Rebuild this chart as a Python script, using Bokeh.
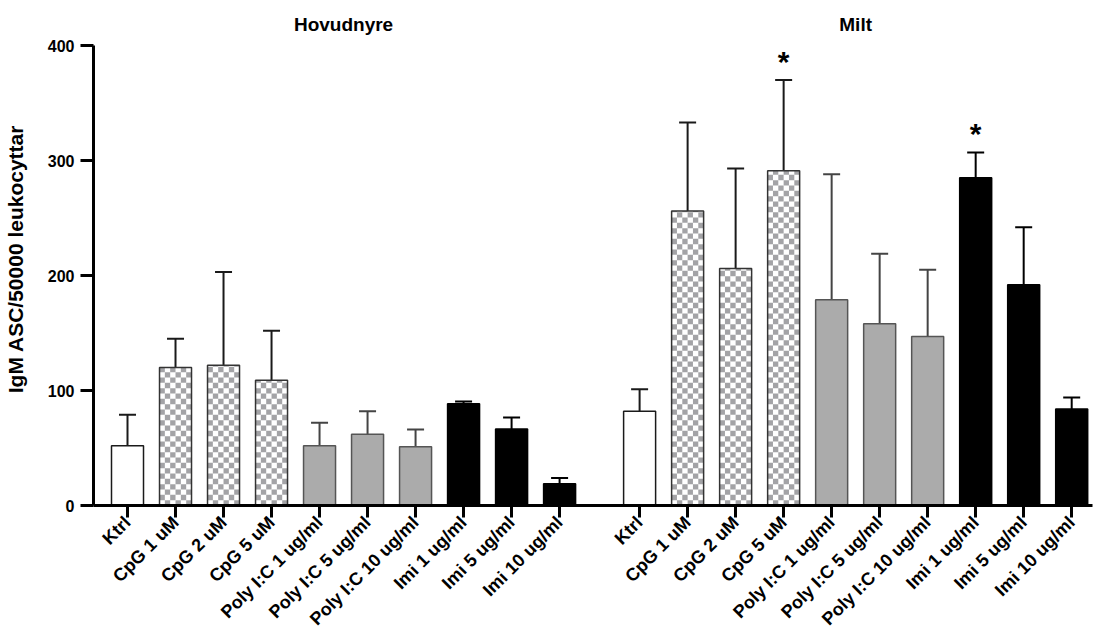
import math
from bokeh.plotting import figure
from bokeh.models import (ColumnDataSource, FixedTicker, Whisker, TeeHead, Range1d)
from bokeh.core.properties import value
from bokeh.embed import file_html
from bokeh.resources import INLINE

# ---------------- data ----------------
groups = ["Hovudnyre", "Milt"]
categories = ["Ktrl", "CpG 1 uM", "CpG 2 uM", "CpG 5 uM",
              "Poly I:C 1 ug/ml", "Poly I:C 5 ug/ml", "Poly I:C 10 ug/ml",
              "Imi 1 ug/ml", "Imi 5 ug/ml", "Imi 10 ug/ml"]
treatment = ["ktrl", "cpg", "cpg", "cpg", "poly", "poly", "poly", "imi", "imi", "imi"]

hovudnyre_mean = [52, 120, 122, 109, 52, 62, 51, 88.5, 66.5, 19]
hovudnyre_err = [27, 25, 81, 43, 20, 20, 15, 2, 10, 5]
hovudnyre_sig = ["", "", "", "", "", "", "", "", "", ""]

milt_mean = [82, 256, 206, 291, 179, 158, 147, 285, 192, 84]
milt_err = [19, 77, 87, 79, 109, 61, 58, 22, 50, 10]
milt_sig = ["", "", "", "*", "", "", "", "*", "", ""]

y_ticks = [0, 100, 200, 300, 400]

# ---------------- layout helpers ----------------
STEP = 3          # one category = 3 x-units
GROUP_GAP = 2     # extra units between the two groups
BAR_W = 2.0
n = len(categories)

xs, tops, uppers, kinds, sigs, labels = [], [], [], [], [], []
group_centers = []
for gi, (means, es, sg) in enumerate([(hovudnyre_mean, hovudnyre_err, hovudnyre_sig),
                                      (milt_mean, milt_err, milt_sig)]):
    base = gi * (n * STEP + GROUP_GAP)
    gx = [base + i * STEP for i in range(n)]
    group_centers.append(sum(gx) / n)
    xs += gx
    tops += means
    uppers += [m + e for m, e in zip(means, es)]
    kinds += treatment
    sigs += sg
    labels += categories

styles = {
    "ktrl": dict(fill_color="white", line_color="#1a1a1a", wcolor="#1a1a1a"),
    "cpg": dict(fill_color="white", line_color="#333333", wcolor="#1a1a1a"),
    "poly": dict(fill_color="#ababab", line_color="#555555", wcolor="#444444"),
    "imi": dict(fill_color="black", line_color="black", wcolor="black"),
}

p = figure(width=1097, height=643,
           x_range=Range1d(-2.125, 60.3), y_range=Range1d(0, 428.7),
           output_backend="svg", toolbar_location=None,
           min_border_left=93, min_border_right=5, min_border_top=12,
           min_border_bottom=138)
p.outline_line_color = None
p.xgrid.visible = False
p.ygrid.visible = False
p.background_fill_color = "white"
p.border_fill_color = "white"

# checker pattern cells for the CpG bars (derived from the bar heights)
CELLS = 6
cw = BAR_W / CELLS
ch = cw * 16 / 1.15   # square cells on screen
ql, qr, qb, qt = [], [], [], []
for x, t, k in zip(xs, tops, kinds):
    if k != "cpg":
        continue
    left = x - BAR_W / 2
    r = 0
    while r * ch < t:
        b = r * ch
        top = min(b + ch, t)
        for c in range(CELLS):
            if (r + c) % 2 == 1:
                ql.append(left + c * cw)
                qr.append(left + (c + 1) * cw)
                qb.append(b)
                qt.append(top)
        r += 1

for kind, st in styles.items():
    idx = [i for i, k in enumerate(kinds) if k == kind]
    src = ColumnDataSource(dict(
        x=[xs[i] for i in idx], top=[tops[i] for i in idx],
        upper=[uppers[i] for i in idx]))
    w = Whisker(base="x", lower="top", upper="upper", source=src,
                dimension="height", line_color=st["wcolor"], line_width=2,
                upper_head=TeeHead(size=17, line_width=2, line_color=st["wcolor"]),
                lower_head=None, level="underlay")
    p.add_layout(w)
    p.vbar(x="x", top="top", bottom=0, width=BAR_W, source=src,
           fill_color=st["fill_color"], line_color=None)
    if kind == "cpg":
        p.quad(left=ql, right=qr, bottom=qb, top=qt, fill_color="#a3a3a6",
               line_color=None)
    p.vbar(x="x", top="top", bottom=0, width=BAR_W, source=src,
           fill_color=None, line_color=st["line_color"], line_width=1.5)

# significance stars
star_src = ColumnDataSource(dict(x=xs, y=uppers, t=sigs))
p.text(x="x", y="y", text="t", source=star_src, text_align="center",
       text_baseline="alphabetic", y_offset=-19, text_font=value("Liberation Sans"),
       text_font_style="bold", text_font_size="30px", text_color="black")

# group titles
title_src = ColumnDataSource(dict(x=group_centers, y=[418, 418], t=groups))
p.text(x="x", y="y", text="t", source=title_src, text_align="center",
       text_baseline="middle", text_font=value("Liberation Sans"),
       text_font_style="bold", text_font_size="19px", text_color="black")

# axes
p.xaxis.ticker = FixedTicker(ticks=xs)
p.xaxis.major_label_overrides = {x: lab for x, lab in zip(xs, labels)}
p.xaxis.major_label_orientation = math.pi / 4
p.yaxis.ticker = FixedTicker(ticks=y_ticks)
p.yaxis.bounds = (0, 400)
p.yaxis.axis_label = "IgM ASC/50000 leukocyttar"

for ax in (p.xaxis, p.yaxis):
    ax.axis_line_width = 3
    ax.axis_line_color = "black"
    ax.major_tick_line_width = 3
    ax.major_tick_line_color = "black"
    ax.major_tick_in = 0
    ax.minor_tick_line_color = None
    ax.major_label_text_font = "Liberation Sans"
    ax.major_label_text_font_style = "bold"
    ax.major_label_text_color = "black"
    ax.axis_label_text_font = "Liberation Sans"
    ax.axis_label_text_font_style = "bold"
    ax.axis_label_text_font_size = "21px"
    ax.axis_label_text_color = "black"

p.xaxis.major_label_text_font_size = "18px"
p.yaxis.major_label_text_font_size = "16px"
p.xaxis.major_tick_out = 12
p.xaxis.major_label_standoff = 2
p.yaxis.major_tick_out = 13
p.yaxis.major_label_standoff = 6
p.yaxis.axis_label_standoff = 18

open("out.html", "w").write(file_html(p, INLINE))
